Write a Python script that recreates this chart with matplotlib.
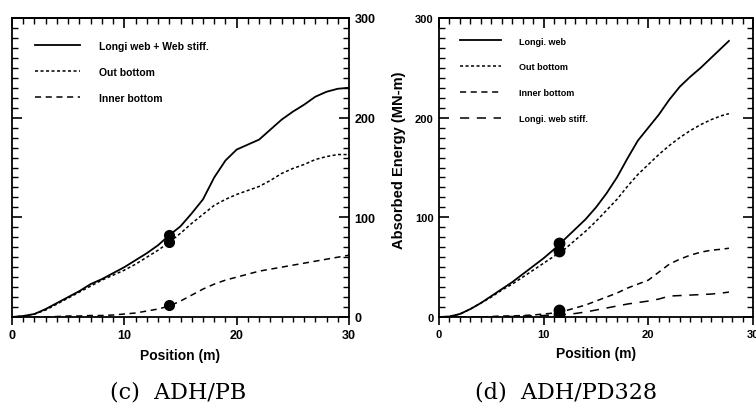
import numpy as np
import matplotlib
matplotlib.use("Agg")
import matplotlib.pyplot as plt
from matplotlib.ticker import MultipleLocator

plt.rcParams['font.family'] = ['Liberation Sans', 'DejaVu Sans']

# (c) ADH/PB
pos_c = [0, 1, 2, 3, 4, 5, 6, 7, 8, 9, 10, 11, 12, 13, 14, 15, 16, 17, 18, 19, 20,
         21, 22, 23, 24, 25, 26, 27, 28, 29, 30]
web_c = [0, 1, 3, 8, 14, 20, 26, 33, 38, 44, 50, 57, 64, 72, 82, 91, 104, 118, 140, 157, 168,
         173, 178, 188, 198, 206, 213, 221, 226, 229, 230]
out_c = [0, 1, 3, 7, 13, 19, 25, 31, 37, 42, 47, 53, 60, 67, 75, 84, 94, 103, 112, 118, 123,
         127, 131, 137, 144, 149, 153, 158, 161, 163, 163]
inner_c = [0, 0, 0, 0, 0.5, 1, 1, 1.5, 1.5, 2, 3, 4, 6, 8, 11, 16, 22, 28, 33, 37, 40,
           43, 46, 48, 50, 52, 54, 56, 58, 60, 62]
mark_x_c = 14
mark_c = [82, 75, 12]
labels_c = ["Longi web + Web stiff.", "Out bottom", "Inner bottom"]

# (d) ADH/PD328
pos_d = [0, 1, 2, 3, 4, 5, 6, 7, 8, 9, 10, 11, 12, 13, 14, 15, 16, 17, 18, 19, 20,
         21, 22, 23, 24, 25, 26, 27, 27.7]
web_d = [0, 0.5, 3, 8, 14, 21, 28, 35, 43, 51, 59, 68, 78, 88, 98, 110, 124, 140, 159, 177, 190,
         203, 218, 231, 241, 250, 260, 270, 277]
out_d = [0, 0.5, 3, 8, 14, 20, 27, 33, 40, 47, 54, 61, 68, 77, 86, 96, 107, 118, 131, 143, 153,
         163, 172, 180, 187, 193, 198, 202, 204]
inner_d = [0, 0, 0, 0, 0, 0.5, 1, 1, 1.5, 2, 3, 4, 6, 9, 12, 16, 20, 24, 29, 33, 37,
           45, 53, 58, 62, 65, 67, 68, 69]
stiff_d = [0, 0, 0, 0, 0, 0, 0.5, 0.5, 1, 1, 1.5, 2, 2.5, 3.5, 5, 7, 9, 11, 13, 14.5, 16,
           18, 21, 21.5, 22, 22.5, 23, 24, 25]
mark_x_d = 11.5
mark_d = [74, 66, 7, 3]
labels_d = ["Longi. web", "Out bottom", "Inner bottom", "Longi. web stiff."]

W, H = 756, 414
fig = plt.figure(figsize=(W / 100, H / 100), dpi=100)


def frac(x0, y0, x1, y1):
    return [x0 / W, 1 - y1 / H, (x1 - x0) / W, (y1 - y0) / H]


def style_axes(ax, labelright, tsize):
    ax.set_xlim(0, 30)
    ax.set_ylim(0, 300)
    ax.xaxis.set_major_locator(MultipleLocator(10))
    ax.xaxis.set_minor_locator(MultipleLocator(1))
    ax.yaxis.set_major_locator(MultipleLocator(100))
    ax.yaxis.set_minor_locator(MultipleLocator(10))
    ax.tick_params(axis='x', which='both', direction='out', top=False, labelsize=tsize, pad=3)
    ax.tick_params(axis='x', which='major', length=6, width=1.2)
    ax.tick_params(axis='x', which='minor', length=3.5, width=1)
    ax.tick_params(axis='y', which='both', direction='in', left=True, right=True,
                   labelleft=not labelright, labelright=labelright, labelsize=tsize, pad=4)
    ax.tick_params(axis='y', which='major', length=7, width=1.2)
    ax.tick_params(axis='y', which='minor', length=4, width=1)
    for lab in ax.get_xticklabels() + ax.get_yticklabels():
        lab.set_fontweight('bold')
    top = ax.secondary_xaxis('top')
    top.xaxis.set_major_locator(MultipleLocator(10))
    top.xaxis.set_minor_locator(MultipleLocator(1))
    top.tick_params(which='both', direction='in', labeltop=False)
    top.tick_params(which='major', length=7, width=1.2)
    top.tick_params(which='minor', length=4, width=1)
    for s in list(ax.spines.values()) + [top.spines['top']]:
        s.set_linewidth(1.3)
    ax.set_xlabel("Position (m)", fontsize=10, fontweight='bold', labelpad=5)


styles = ['-', (0, (2, 1.6)), (0, (4, 3)), (0, (6, 5))]

# panel (c)
ax1 = fig.add_axes(frac(12, 19, 349, 318))
for y, ls, lab in zip([web_c, out_c, inner_c], styles, labels_c):
    ax1.plot(pos_c, y, color='black', linestyle=ls, lw=1.3 if ls == '-' else 1.1, label=lab)
ax1.plot([mark_x_c] * len(mark_c), mark_c, 'o', color='black', ms=7)
style_axes(ax1, True, 9)
ax1.legend(loc='upper left', bbox_to_anchor=(0.04, 0.955), frameon=False, handlelength=4.3,
           handletextpad=1.9, labelspacing=1.55, prop={'size': 7.5, 'weight': 'bold'})

# panel (d)
ax2 = fig.add_axes(frac(439, 19, 753, 318))
for y, ls, lab in zip([web_d, out_d, inner_d, stiff_d], styles, labels_d):
    ax2.plot(pos_d, y, color='black', linestyle=ls, lw=1.3 if ls == '-' else 1.1, label=lab)
ax2.plot([mark_x_d] * len(mark_d), mark_d, 'o', color='black', ms=7.5)
style_axes(ax2, False, 8)
ax2.legend(loc='upper left', bbox_to_anchor=(0.04, 0.965), frameon=False, handlelength=4.6,
           handletextpad=2.0, labelspacing=1.85, prop={'size': 6.5, 'weight': 'bold'})

fig.text(399 / W, 1 - 160 / H, "Absorbed Energy (MN-m)", rotation=90, fontsize=10.5,
         fontweight='bold', ha='center', va='center')

fig.text(178 / W, 1 - 393 / H, "(c)  ADH/PB", family='DejaVu Serif', fontsize=16,
         ha='center', va='center')
fig.text(566 / W, 1 - 393 / H, "(d)  ADH/PD328", family='DejaVu Serif', fontsize=16,
         ha='center', va='center')

fig.savefig("out.png", dpi=100)
